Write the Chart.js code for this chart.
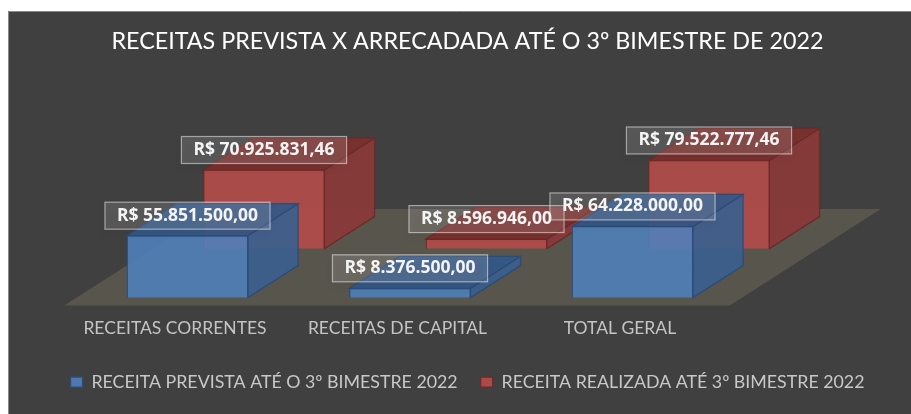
<!DOCTYPE html>
<html lang="pt-BR">
<head>
<meta charset="utf-8">
<title>Receitas</title>
<script src="https://cdn.jsdelivr.net/npm/chart.js@4"></script>
<style>
  html, body { margin: 0; padding: 0; background: #fff; }
  canvas { display: block; }
</style>
</head>
<body>
<canvas id="grafico" width="911" height="414"></canvas>
<script>
const categorias = ['RECEITAS CORRENTES', 'RECEITAS DE CAPITAL', 'TOTAL GERAL'];
const receitaPrevista = [55851500.00, 8376500.00, 64228000.00];
const receitaRealizada = [70925831.46, 8596946.00, 79522777.46];
const nomesSeries = ['RECEITA PREVISTA ATÉ O 3º BIMESTRE 2022', 'RECEITA REALIZADA ATÉ 3º BIMESTRE 2022'];
const titulo = 'RECEITAS PREVISTA X ARRECADADA ATÉ O 3º BIMESTRE DE 2022';

// profundidade da caixa 3D e deslocamento de cada serie no "piso"
const PROF = { x: 50, y: -32 };
const FILA = [{ x: 0, y: 0 }, { x: 76.5, y: -49 }];
const CORES = [
  { frente: 'rgba(79,129,189,0.88)', lado: 'rgba(58,96,142,0.92)', topo: 'rgba(50,88,136,0.92)', linha: '#2c4c78' },
  { frente: 'rgba(178,76,74,0.92)', lado: 'rgba(138,58,56,0.92)', topo: 'rgba(124,48,46,0.92)', linha: '#6e2a28' }
];

function formatar(v) {
  return 'R$ ' + v.toLocaleString('pt-BR', { minimumFractionDigits: 2, maximumFractionDigits: 2 });
}

function poligono(ctx, pts, fill, stroke) {
  ctx.beginPath();
  pts.forEach((p, i) => i ? ctx.lineTo(p[0], p[1]) : ctx.moveTo(p[0], p[1]));
  ctx.closePath();
  if (fill) { ctx.fillStyle = fill; ctx.fill(); }
  if (stroke) { ctx.strokeStyle = stroke; ctx.lineWidth = 1.2; ctx.stroke(); }
}

const cena3d = {
  id: 'cena3d',
  beforeDraw(chart) {
    const { ctx, width, height, scales } = chart;
    ctx.save();
    ctx.fillStyle = '#fff';
    ctx.fillRect(0, 0, width, height);
    ctx.fillStyle = '#404040';
    ctx.fillRect(8, 11, width - 8, height - 11);
    ctx.strokeStyle = '#8a8a8a';
    ctx.lineWidth = 1;
    ctx.beginPath();
    ctx.moveTo(8.5, height);
    ctx.lineTo(8.5, 11.5);
    ctx.lineTo(width, 11.5);
    ctx.stroke();
    // piso
    const base = scales.y.getPixelForValue(0) + 8;
    const e = scales.x.left - 12, d = scales.x.right - 14;
    poligono(ctx, [[e, base], [d, base], [d + 151, base - 96.5], [e + 151, base - 96.5]], '#58554c');
    ctx.restore();
  },
  beforeDatasetDraw(chart, args) {
    const { ctx } = chart;
    const f = FILA[args.index];
    ctx.save();
    ctx.translate(f.x, f.y);
    // arestas de tras, vistas atraves da caixa
    args.meta.data.forEach(b => {
      const e = b.x - b.width / 2, d = b.x + b.width / 2;
      poligono(ctx, [[e + PROF.x, b.y + PROF.y], [d + PROF.x, b.y + PROF.y], [d + PROF.x, b.base + PROF.y], [e + PROF.x, b.base + PROF.y]], null, 'rgba(0,0,0,0.08)');
      poligono(ctx, [[e, b.base], [e + PROF.x, b.base + PROF.y]], null, 'rgba(0,0,0,0.08)');
    });
  },
  afterDatasetDraw(chart, args) {
    const { ctx } = chart;
    const c = CORES[args.index];
    args.meta.data.forEach(b => {
      const e = b.x - b.width / 2, d = b.x + b.width / 2;
      poligono(ctx, [[d, b.y], [d + PROF.x, b.y + PROF.y], [d + PROF.x, b.base + PROF.y], [d, b.base]], c.lado, c.linha);
      poligono(ctx, [[e, b.y], [e + PROF.x, b.y + PROF.y], [d + PROF.x, b.y + PROF.y], [d, b.y]], c.topo, c.linha);
    });
    ctx.restore();
  },
  afterDatasetsDraw(chart) {
    const { ctx } = chart;
    // rotulos por cima de tudo; a serie de tras primeiro
    [1, 0].forEach(i => {
      const f = FILA[i];
      chart.getDatasetMeta(i).data.forEach((b, j) => {
        const txt = formatar(chart.data.datasets[i].data[j]);
        ctx.save();
        ctx.font = 'bold 17.5px "Open Sans"';
        const w = ctx.measureText(txt).width + 24, h = 27;
        const cx = b.x + f.x, cy = b.y + f.y - 20;
        ctx.shadowColor = 'rgba(0,0,0,0.35)';
        ctx.shadowBlur = 10;
        ctx.shadowOffsetY = 4;
        ctx.fillStyle = 'rgba(255,255,255,0.13)';
        ctx.fillRect(cx - w / 2, cy - h / 2, w, h);
        ctx.shadowColor = 'transparent';
        ctx.strokeStyle = 'rgba(255,255,255,0.5)';
        ctx.lineWidth = 1.2;
        ctx.strokeRect(cx - w / 2, cy - h / 2, w, h);
        ctx.fillStyle = '#f4f4f4';
        ctx.textAlign = 'center';
        ctx.textBaseline = 'middle';
        ctx.fillText(txt, cx, cy);
        ctx.restore();
      });
    });
  }
};

new Chart(document.getElementById('grafico'), {
  type: 'bar',
  data: {
    labels: categorias,
    datasets: [
      { label: nomesSeries[0], data: receitaPrevista, order: 1, backgroundColor: CORES[0].frente, borderColor: CORES[0].linha },
      { label: nomesSeries[1], data: receitaRealizada, order: 2, backgroundColor: CORES[1].frente, borderColor: CORES[1].linha }
    ]
  },
  plugins: [cena3d],
  options: {
    responsive: false,
    animation: false,
    clip: false,
    grouped: false,
    barThickness: 121,
    borderWidth: 1.2,
    layout: { padding: { left: 24, right: 0, top: 0, bottom: 13 } },
    plugins: {
      tooltip: { enabled: false },
      title: {
        display: true,
        text: titulo,
        color: '#ffffff',
        font: { family: 'Lato', size: 23.3, weight: 'normal', lineHeight: 1.2 },
        padding: { top: 27, bottom: 21 }
      },
      legend: {
        position: 'bottom',
        labels: {
          color: '#c8c8c8',
          font: { family: 'Lato', size: 17.8 },
          boxWidth: 12,
          boxHeight: 10,
          padding: 23
        }
      }
    },
    scales: {
      x: {
        grid: { display: false, drawTicks: false },
        border: { display: false },
        ticks: { color: '#c4c4c4', font: { family: 'Lato', size: 17.5 }, padding: 20.5, labelOffset: -12.5, maxRotation: 0 },
        afterFit(s) { s.height = 52.6; }
      },
      y: {
        min: 0,
        max: 200000000,
        grid: { display: false },
        border: { display: false },
        ticks: { display: false },
        afterFit(s) { s.width = 52.25; }
      },
      // eixo vazio: so reserva o espaco a direita do piso
      margem: {
        position: 'right',
        grid: { display: false },
        border: { display: false },
        ticks: { display: false },
        afterFit(s) { s.width = 167.25; }
      }
    }
  }
});
</script>
</body>
</html>
